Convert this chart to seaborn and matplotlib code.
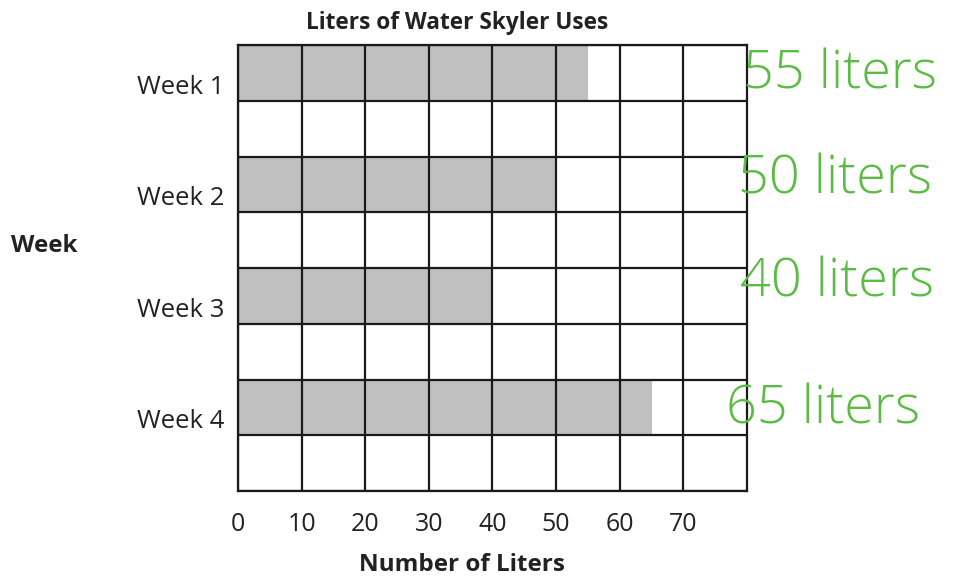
import numpy as np
import pandas as pd
import matplotlib
matplotlib.use('Agg')
import matplotlib.pyplot as plt
import seaborn as sns

weeks = ['Week 1', 'Week 2', 'Week 3', 'Week 4']
liters = [55, 50, 40, 65]
notes = ['55 liters', '50 liters', '40 liters', '65 liters']
x_ticks = [0, 10, 20, 30, 40, 50, 60, 70]

df = pd.DataFrame({'week': weeks, 'liters': liters})

sns.set_theme(style='white')
plt.rcParams['font.family'] = ['Open Sans', 'DejaVu Sans']

fig = plt.figure(figsize=(9.63, 5.78), dpi=100)
ax = fig.add_axes([0.2471, 0.1505, 0.5286, 0.7716])

sns.barplot(data=df, x='liters', y='week', orient='h', color='#c0c0c0',
            width=0.5, saturation=1, ax=ax)
for p in ax.patches:
    p.set_edgecolor('none')

ax.set_xlim(0, 80)
ax.set_ylim(3.75, -0.25)

# grid: columns every 10 liters, two rows per week
ax.set_xticks(x_ticks)
ax.set_xticklabels([str(v) for v in x_ticks], fontsize=18, color='#222222')
ax.set_yticks(np.arange(-0.25, 3.76, 0.5), minor=True)
ax.set_yticks(np.arange(len(weeks)) + 0.1)
ax.set_yticklabels(weeks, fontsize=18.5, color='#222222')
ax.grid(True, which='major', axis='x', color='#1a1a1a', linewidth=1.6)
ax.grid(True, which='minor', axis='y', color='#1a1a1a', linewidth=1.6)
ax.grid(False, which='major', axis='y')
ax.set_axisbelow(False)
ax.tick_params(axis='both', which='both', length=0)
ax.tick_params(axis='y', pad=10)
ax.tick_params(axis='x', pad=15)
for s in ax.spines.values():
    s.set_visible(True)
    s.set_color('#1a1a1a')
    s.set_linewidth(1.6)

ax.set_xlabel('Number of Liters', fontsize=17.5, fontweight='bold', color='#222222',
              va='center')
ax.xaxis.set_label_coords(0.44, -0.166)
ax.set_ylabel('Week', fontsize=17.5, fontweight='bold', color='#222222',
              rotation=0, ha='center', va='center')
ax.yaxis.set_label_coords(-0.381, 0.549)

ax.text(0.43, 1.05, 'Liters of Water Skyler Uses', transform=ax.transAxes,
        ha='center', va='center', fontsize=16.3, fontweight='bold', color='#222222')

# handwritten notes in green on the right
note_x = [79.4, 78.6, 78.9, 76.7]
note_dy = [0.02, -0.04, -0.12, 0.02]
for i, txt in enumerate(notes):
    ax.text(note_x[i], i + note_dy[i], txt, ha='left', va='center',
            fontsize=39, fontweight='light', color='#5cbb45', clip_on=False)

fig.savefig('out.png', dpi=100)
